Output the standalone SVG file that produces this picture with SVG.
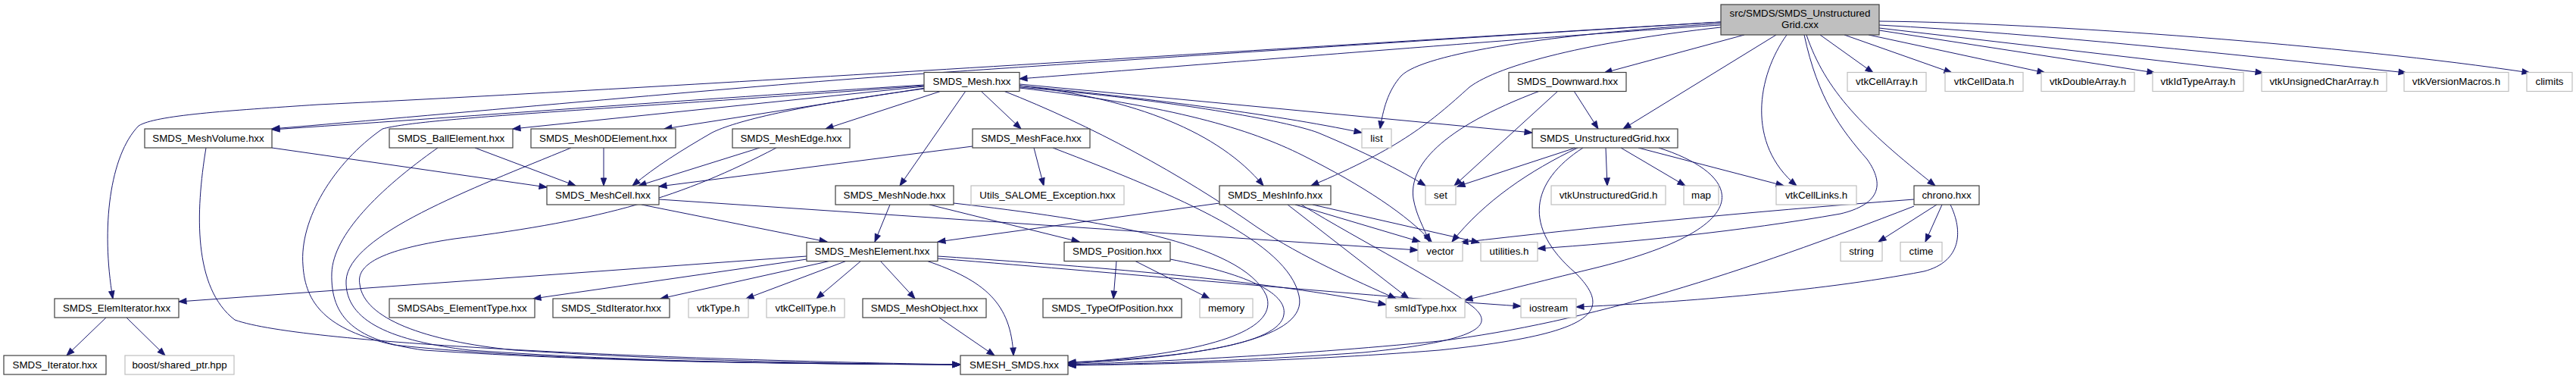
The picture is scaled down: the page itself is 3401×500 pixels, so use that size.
<svg xmlns="http://www.w3.org/2000/svg" width="3401" height="500" viewBox="0 0 3401 500">
<style>
.n{fill:#fff;stroke:#404040;stroke-width:1.2}
.u{fill:#fff;stroke:#bfbfbf;stroke-width:1.2}
.r{fill:#bfbfbf;stroke:#404040;stroke-width:1.2}
text{font-family:"Liberation Sans",Arial,Helvetica,sans-serif;font-size:13.33px;fill:#000;text-anchor:middle}
.e path{fill:none;stroke:#191970;stroke-width:1;marker-end:url(#a)}
</style>
<defs>
<marker id="a" markerWidth="11" markerHeight="9" refX="10" refY="4" orient="auto" markerUnits="userSpaceOnUse" overflow="visible">
<path d="M0,0.3 L10,4 L0,7.7 z" fill="#191970" stroke="#191970" stroke-width="1"/>
</marker>
</defs>
<rect width="3401" height="500" fill="#fff"/>
<g class="e" id="connectors">
<path id="e-root-mesh" d="M2272,33 C2100,44 1700,76 1346,104"/>
<path id="e-root-elemiterator" d="M2272,29 C1700,63 900,115 420,138 C300,146 205,152 183,166 C145,205 133,300 149,394"/>
<path id="e-root-meshvolume" d="M2272,29 C1800,58 1400,85 1222,97 C1000,112 600,150 359,170"/>
<path id="e-root-list" d="M2272,31 C2050,45 1880,70 1850,100 C1832,120 1826,145 1822,170"/>
<path id="e-root-meshinfo" d="M2272,36 C2100,55 1980,85 1940,115 C1890,160 1850,195 1731,245"/>
<path id="e-root-downward" d="M2303,46 L2118,96"/>
<path id="e-root-ug" d="M2345,46 L2143,170"/>
<path id="e-root-celllinks" d="M2359,46 C2320,100 2305,190 2372,245"/>
<path id="e-root-utilities" d="M2382,46 C2400,130 2430,170 2465,210 C2490,245 2480,270 2430,282 C2300,305 2150,320 2030,328"/>
<path id="e-root-chrono" d="M2385,46 C2410,120 2460,170 2555,245"/>
<path id="e-root-cellarray" d="M2403,46 L2473,96"/>
<path id="e-root-celldata" d="M2435,46 L2577,96"/>
<path id="e-root-double" d="M2467,46 L2700,96"/>
<path id="e-root-idtype" d="M2481,40 L2845,96"/>
<path id="e-root-uchar" d="M2481,37 L2988,96"/>
<path id="e-root-version" d="M2481,33 C2700,45 2950,72 3177,96"/>
<path id="e-root-climits" d="M2481,28 C2700,30 3100,60 3340,96"/>
<path id="e-mesh-volume" d="M1220,112 C900,132 600,155 359,171"/>
<path id="e-mesh-ball" d="M1220,114 L677,170"/>
<path id="e-mesh-0d" d="M1222,116 L877,170"/>
<path id="e-mesh-edge" d="M1243,120 L1090,170"/>
<path id="e-mesh-cell" d="M1220,117 C1050,140 970,160 940,175 C900,198 865,220 835,245"/>
<path id="e-mesh-face" d="M1295,120 L1348,170"/>
<path id="e-mesh-node" d="M1275,120 L1188,245"/>
<path id="e-mesh-info" d="M1346,113 C1500,130 1610,175 1668,245"/>
<path id="e-mesh-ug" d="M1346,111 L2023,175"/>
<path id="e-mesh-list" d="M1346,113 C1500,128 1680,150 1798,175"/>
<path id="e-mesh-set" d="M1346,115 C1550,132 1700,160 1740,175 C1800,200 1850,225 1882,245"/>
<path id="e-mesh-vector" d="M1346,116 C1550,140 1650,170 1720,205 C1800,245 1860,285 1890,319"/>
<path id="e-mesh-smid" d="M1325,120 C1440,165 1560,230 1660,300 C1720,340 1790,370 1843,394"/>
<path id="e-mesh-smesh" d="M1220,113 C800,145 560,155 505,170 C440,215 395,290 400,350 C403,400 430,435 520,455 C700,475 1000,480 1268,481"/>
<path id="e-down-ug" d="M2078,120 L2110,170"/>
<path id="e-down-set" d="M2057,120 L1920,245"/>
<path id="e-down-vector" d="M2033,120 C1900,170 1860,220 1866,262 C1870,285 1880,300 1887,319"/>
<path id="e-ug-vtkug" d="M2120,195 L2122,245"/>
<path id="e-ug-map" d="M2140,195 L2225,245"/>
<path id="e-ug-celllinks" d="M2163,195 L2355,245"/>
<path id="e-ug-set" d="M2080,195 L1924,246"/>
<path id="e-ug-vector" d="M2083,195 C2020,225 1960,265 1917,319"/>
<path id="e-ug-smid" d="M2190,195 C2300,230 2330,300 2100,355 C2030,372 1980,385 1934,396"/>
<path id="e-ug-smesh" d="M2090,195 C2020,240 2010,300 2080,360 C2130,410 2110,440 1900,462 C1700,478 1500,481 1410,482"/>
<path id="e-info-element" d="M1610,268 L1238,319"/>
<path id="e-info-vector" d="M1710,270 L1875,319"/>
<path id="e-info-util" d="M1733,270 L1953,320"/>
<path id="e-info-smid" d="M1700,270 L1860,394"/>
<path id="e-info-smesh" d="M1718,270 C1800,320 1900,370 1945,405 C1975,430 1950,450 1800,465 C1650,476 1500,480 1410,482"/>
<path id="e-chrono-vector" d="M2527,263 C2300,280 2100,300 1928,320"/>
<path id="e-chrono-string" d="M2557,270 L2480,319"/>
<path id="e-chrono-ctime" d="M2564,270 L2542,319"/>
<path id="e-chrono-iostream" d="M2575,270 C2592,305 2590,345 2540,358 C2400,385 2200,400 2081,405"/>
<path id="e-chrono-smesh" d="M2527,272 C2300,360 2100,425 1900,450 C1700,470 1500,478 1410,481"/>
<path id="e-face-cell" d="M1284,193 L870,246"/>
<path id="e-face-utils" d="M1365,195 L1378,245"/>
<path id="e-face-smesh" d="M1390,195 C1560,260 1700,320 1715,390 C1728,445 1600,470 1410,480"/>
<path id="e-node-element" d="M1175,270 L1155,319"/>
<path id="e-node-position" d="M1227,270 L1425,319"/>
<path id="e-node-smesh" d="M1259,268 C1450,290 1640,320 1672,390 C1690,440 1580,468 1410,479"/>
<path id="e-pos-top" d="M1474,344 L1470,394"/>
<path id="e-pos-memory" d="M1498,344 L1597,394"/>
<path id="e-pos-smesh" d="M1545,342 C1640,360 1700,385 1695,415 C1690,455 1560,472 1410,478"/>
<path id="e-el-elemiter" d="M1065,338 L236,398"/>
<path id="e-el-abs" d="M1065,342 L704,394"/>
<path id="e-el-std" d="M1097,344 L872,394"/>
<path id="e-el-vtktype" d="M1118,344 L985,394"/>
<path id="e-el-vtkcelltype" d="M1137,344 L1078,394"/>
<path id="e-el-object" d="M1162,344 L1208,394"/>
<path id="e-el-smesh" d="M1223,344 C1300,370 1335,400 1338,469"/>
<path id="e-el-smid" d="M1238,338 C1500,355 1700,375 1830,402"/>
<path id="e-el-iostream" d="M1238,341 C1500,362 1800,390 2008,404"/>
<path id="e-cell-element" d="M847,270 L1092,319"/>
<path id="e-cell-vector" d="M870,263 L1872,330"/>
<path id="e-vol-cell" d="M359,195 L722,247"/>
<path id="e-vol-smesh" d="M272,195 C258,280 255,380 310,422 C400,455 900,475 1268,481"/>
<path id="e-ball-cell" d="M627,195 L760,245"/>
<path id="e-ball-smesh" d="M578,195 C500,250 440,310 438,360 C436,420 470,450 560,462 C800,478 1050,480 1268,481"/>
<path id="e-0d-cell" d="M797,195 L797,245"/>
<path id="e-0d-smesh" d="M754,195 C620,250 460,310 457,370 C455,425 520,450 620,462 C850,478 1050,480 1268,481"/>
<path id="e-edge-cell" d="M1003,195 L843,245"/>
<path id="e-edge-smesh" d="M1025,195 C900,260 800,290 600,315 C500,330 470,350 475,375 C480,420 560,450 680,462 C900,476 1100,480 1268,481"/>
<path id="e-obj-smesh" d="M1240,419 L1313,469"/>
<path id="e-ei-iter" d="M140,419 L88,469"/>
<path id="e-ei-boost" d="M167,419 L218,469"/>
</g>
<g id="node-root"><rect class="r" x="2272" y="6" width="209" height="40"/><text x="2376.5" y="21.5">src/SMDS/SMDS_Unstructured</text><text x="2376.5" y="36.5">Grid.cxx</text></g>
<g id="node-mesh"><rect class="n" x="1220" y="95.5" width="126" height="25"/><text x="1283" y="112.3">SMDS_Mesh.hxx</text></g>
<g id="node-downward"><rect class="n" x="1992" y="95.5" width="155" height="25"/><text x="2069.5" y="112.3">SMDS_Downward.hxx</text></g>
<g id="node-vtkcellarray"><rect class="u" x="2439" y="95.5" width="104" height="25"/><text x="2491" y="112.3">vtkCellArray.h</text></g>
<g id="node-vtkcelldata"><rect class="u" x="2568" y="95.5" width="103" height="25"/><text x="2619.5" y="112.3">vtkCellData.h</text></g>
<g id="node-vtkdoublearray"><rect class="u" x="2695" y="95.5" width="123" height="25"/><text x="2756.5" y="112.3">vtkDoubleArray.h</text></g>
<g id="node-vtkidtypearray"><rect class="u" x="2842" y="95.5" width="120" height="25"/><text x="2902" y="112.3">vtkIdTypeArray.h</text></g>
<g id="node-vtkunsignedchararray"><rect class="u" x="2986" y="95.5" width="165" height="25"/><text x="3068.5" y="112.3">vtkUnsignedCharArray.h</text></g>
<g id="node-vtkversionmacros"><rect class="u" x="3174" y="95.5" width="138" height="25"/><text x="3243" y="112.3">vtkVersionMacros.h</text></g>
<g id="node-climits"><rect class="u" x="3336" y="95.5" width="60" height="25"/><text x="3366" y="112.3">climits</text></g>
<g id="node-meshvolume"><rect class="n" x="191" y="170" width="168" height="25"/><text x="275" y="186.8">SMDS_MeshVolume.hxx</text></g>
<g id="node-ballelement"><rect class="n" x="514" y="170" width="163" height="25"/><text x="595.5" y="186.8">SMDS_BallElement.hxx</text></g>
<g id="node-mesh0delement"><rect class="n" x="701" y="170" width="191" height="25"/><text x="796.5" y="186.8">SMDS_Mesh0DElement.hxx</text></g>
<g id="node-meshedge"><rect class="n" x="967" y="170" width="155" height="25"/><text x="1044.5" y="186.8">SMDS_MeshEdge.hxx</text></g>
<g id="node-meshface"><rect class="n" x="1284" y="170" width="155" height="25"/><text x="1361.5" y="186.8">SMDS_MeshFace.hxx</text></g>
<g id="node-list"><rect class="u" x="1798" y="170" width="39" height="25"/><text x="1817.5" y="186.8">list</text></g>
<g id="node-unstructuredgrid"><rect class="n" x="2023" y="170" width="192" height="25"/><text x="2119" y="186.8">SMDS_UnstructuredGrid.hxx</text></g>
<g id="node-meshcell"><rect class="n" x="722" y="245" width="148" height="25"/><text x="796" y="261.8">SMDS_MeshCell.hxx</text></g>
<g id="node-meshnode"><rect class="n" x="1103" y="245" width="156" height="25"/><text x="1181" y="261.8">SMDS_MeshNode.hxx</text></g>
<g id="node-utils"><rect class="u" x="1282" y="245" width="202" height="25"/><text x="1383" y="261.8">Utils_SALOME_Exception.hxx</text></g>
<g id="node-meshinfo"><rect class="n" x="1610" y="245" width="147" height="25"/><text x="1683.5" y="261.8">SMDS_MeshInfo.hxx</text></g>
<g id="node-set"><rect class="u" x="1882" y="245" width="40" height="25"/><text x="1902" y="261.8">set</text></g>
<g id="node-vtkunstructuredgrid"><rect class="u" x="2048" y="245" width="151" height="25"/><text x="2123.5" y="261.8">vtkUnstructuredGrid.h</text></g>
<g id="node-map"><rect class="u" x="2223" y="245" width="46" height="25"/><text x="2246" y="261.8">map</text></g>
<g id="node-vtkcelllinks"><rect class="u" x="2345" y="245" width="106" height="25"/><text x="2398" y="261.8">vtkCellLinks.h</text></g>
<g id="node-chrono"><rect class="n" x="2527" y="245" width="86" height="25"/><text x="2570" y="261.8">chrono.hxx</text></g>
<g id="node-meshelement"><rect class="n" x="1065" y="319.5" width="173" height="25"/><text x="1151.5" y="336.3">SMDS_MeshElement.hxx</text></g>
<g id="node-position"><rect class="n" x="1405" y="319.5" width="140" height="25"/><text x="1475" y="336.3">SMDS_Position.hxx</text></g>
<g id="node-vector"><rect class="u" x="1872" y="319.5" width="59" height="25"/><text x="1901.5" y="336.3">vector</text></g>
<g id="node-utilities"><rect class="u" x="1955" y="319.5" width="75" height="25"/><text x="1992.5" y="336.3">utilities.h</text></g>
<g id="node-string"><rect class="u" x="2430" y="319.5" width="55" height="25"/><text x="2457.5" y="336.3">string</text></g>
<g id="node-ctime"><rect class="u" x="2509" y="319.5" width="55" height="25"/><text x="2536.5" y="336.3">ctime</text></g>
<g id="node-elemiterator"><rect class="n" x="72" y="394" width="164" height="25"/><text x="154" y="410.8">SMDS_ElemIterator.hxx</text></g>
<g id="node-elementtype"><rect class="n" x="514" y="394" width="192" height="25"/><text x="610" y="410.8">SMDSAbs_ElementType.hxx</text></g>
<g id="node-stditerator"><rect class="n" x="730" y="394" width="154" height="25"/><text x="807" y="410.8">SMDS_StdIterator.hxx</text></g>
<g id="node-vtktype"><rect class="u" x="909" y="394" width="79" height="25"/><text x="948.5" y="410.8">vtkType.h</text></g>
<g id="node-vtkcelltype"><rect class="u" x="1012" y="394" width="103" height="25"/><text x="1063.5" y="410.8">vtkCellType.h</text></g>
<g id="node-meshobject"><rect class="n" x="1139" y="394" width="163" height="25"/><text x="1220.5" y="410.8">SMDS_MeshObject.hxx</text></g>
<g id="node-typeofposition"><rect class="n" x="1377" y="394" width="183" height="25"/><text x="1468.5" y="410.8">SMDS_TypeOfPosition.hxx</text></g>
<g id="node-memory"><rect class="u" x="1584" y="394" width="70" height="25"/><text x="1619" y="410.8">memory</text></g>
<g id="node-smidtype"><rect class="u" x="1830" y="394" width="104" height="25"/><text x="1882" y="410.8">smIdType.hxx</text></g>
<g id="node-iostream"><rect class="u" x="2008" y="394" width="73" height="25"/><text x="2044.5" y="410.8">iostream</text></g>
<g id="node-iterator"><rect class="n" x="5" y="469" width="135" height="25"/><text x="72.5" y="485.8">SMDS_Iterator.hxx</text></g>
<g id="node-boost"><rect class="u" x="165" y="469" width="144" height="25"/><text x="237" y="485.8">boost/shared_ptr.hpp</text></g>
<g id="node-smesh"><rect class="n" x="1268" y="469" width="142" height="25"/><text x="1339" y="485.8">SMESH_SMDS.hxx</text></g>
</svg>
